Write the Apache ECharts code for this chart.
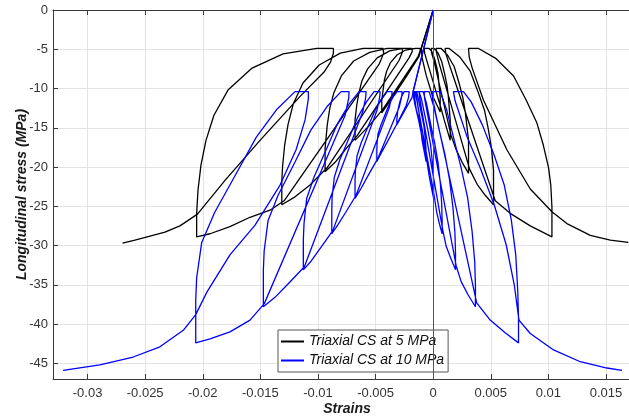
<!DOCTYPE html>
<html><head><meta charset="utf-8">
<script src="https://cdn.jsdelivr.net/npm/echarts@6/dist/echarts.min.js"></script>
<style>html,body{margin:0;padding:0;background:#fff}#c{width:629px;height:418px}</style>
</head><body><div id="c"></div>
<script>
const seriesNames = ['Triaxial CS at 5 MPa', 'Triaxial CS at 10 MPa'];
const xTicks = [-0.03, -0.025, -0.02, -0.015, -0.01, -0.005, 0, 0.005, 0.01, 0.015];
const yTicks = [0, -5, -10, -15, -20, -25, -30, -35, -40, -45];
const xRange = [-0.033, 0.017];
const yRange = [-47, 0];

// Triaxial CS at 5 MPa : lateral strain branch (negative side)
const blackLateral = [
[0,0],[-0.00104,-4.9],[-0.00122,-5.9],[-0.00243,-8.7],[-0.00356,-11.2],[-0.00446,-13.1],
[-0.00446,-11.5],[-0.00423,-8.9],[-0.00404,-7.8],[-0.00370,-6.7],[-0.00312,-5.7],[-0.00238,-5.1],[-0.00156,-4.9],[-0.00113,-4.9],
[-0.00113,-5.2],[-0.00130,-5.9],[-0.00434,-12.6],[-0.00547,-14.6],[-0.00678,-16.6],
[-0.00678,-14.0],[-0.00663,-12.1],[-0.00645,-10.6],[-0.00618,-9.0],[-0.00569,-7.5],[-0.00486,-6.1],[-0.00378,-5.2],[-0.00261,-4.9],[-0.00182,-4.9],
[-0.00182,-5.3],[-0.00209,-6.1],[-0.00660,-16.0],[-0.00764,-17.8],[-0.00851,-19.4],[-0.00938,-20.6],
[-0.00938,-17.6],[-0.00919,-14.6],[-0.00897,-12.5],[-0.00861,-10.5],[-0.00797,-8.4],[-0.00690,-6.5],[-0.00551,-5.4],[-0.00400,-4.9],[-0.00269,-4.9],
[-0.00265,-5.3],[-0.00295,-6.4],[-0.00921,-20.1],[-0.01069,-22.3],[-0.01199,-23.8],[-0.01314,-24.8],
[-0.01314,-21.8],[-0.01307,-19.9],[-0.01289,-17.2],[-0.01260,-14.6],[-0.01213,-11.9],[-0.01130,-9.3],[-0.00989,-7.0],[-0.00806,-5.5],[-0.00608,-4.9],[-0.00434,-4.9],
[-0.00430,-5.5],[-0.00469,-6.9],[-0.00895,-15.9],[-0.01294,-24.3],[-0.01416,-25.5],[-0.01590,-26.4],[-0.01764,-27.6],[-0.01937,-28.5],[-0.02053,-28.9],
[-0.02053,-25.9],[-0.02041,-22.9],[-0.02015,-19.7],[-0.01972,-16.6],[-0.01903,-13.4],[-0.01781,-10.2],[-0.01572,-7.4],[-0.01303,-5.6],[-0.01010,-4.9],[-0.00866,-4.9],
[-0.00866,-5.5],[-0.00890,-6.6],[-0.00947,-7.9],[-0.01155,-11.0],[-0.01503,-16.6],[-0.01807,-21.7],[-0.02046,-26.0],[-0.02198,-27.5],[-0.02328,-28.3],[-0.02458,-28.8],[-0.02589,-29.3],[-0.02696,-29.7]
];

// Triaxial CS at 5 MPa : axial strain branch (positive side)
const blackAxial = [
[0,0],[-0.00104,-4.9],[-0.00096,-6.1],[-0.00061,-8.3],[-0.00009,-10.8],[0.00061,-13.0],
[0.00061,-11.1],[0.00042,-8.1],[0.00028,-7.1],[0.00010,-6.1],[-0.00011,-5.3],[-0.00035,-4.9],[-0.00078,-4.9],
[-0.00074,-5.5],[-0.00052,-6.6],[0.00070,-12.6],[0.00096,-14.0],[0.00122,-15.3],[0.00148,-16.6],
[0.00148,-14.0],[0.00131,-10.9],[0.00119,-9.5],[0.00099,-8.1],[0.00075,-6.6],[0.00043,-5.5],[0.00009,-4.9],[-0.00017,-4.9],
[-0.00013,-5.5],[0.00009,-6.6],[0.00156,-16.0],[0.00200,-17.8],[0.00252,-19.4],[0.00307,-20.8],
[0.00307,-16.6],[0.00279,-13.0],[0.00258,-11.2],[0.00223,-9.2],[0.00182,-7.2],[0.00127,-5.8],[0.00070,-4.9],[0.00026,-4.9],
[0.00030,-5.5],[0.00052,-6.8],[0.00317,-20.3],[0.00382,-22.2],[0.00452,-23.6],[0.00524,-24.8],
[0.00524,-20.4],[0.00506,-17.6],[0.00478,-15.1],[0.00446,-12.8],[0.00389,-10.4],[0.00322,-7.8],[0.00232,-6.0],[0.00139,-4.9],[0.00104,-4.9],
[0.00109,-5.5],[0.00139,-6.9],[0.00539,-24.3],[0.00669,-25.9],[0.00843,-27.5],[0.01031,-28.9],
[0.01031,-25.1],[0.01021,-22.3],[0.01002,-20.1],[0.00956,-17.2],[0.00901,-14.4],[0.00808,-11.5],[0.00698,-8.4],[0.00547,-6.2],[0.00394,-4.9],[0.00307,-4.9],
[0.00313,-6.0],[0.00339,-7.4],[0.00437,-11.5],[0.00640,-17.8],[0.00843,-22.8],[0.01031,-25.7],[0.01161,-27.2],[0.01364,-28.7],[0.01538,-29.3],[0.01695,-29.6]
];

// Triaxial CS at 10 MPa : lateral strain branch
const blueLateral = [
[0,0],[-0.00174,-10.4],[-0.00182,-11.1],[-0.00243,-12.7],[-0.00315,-14.6],
[-0.00315,-13.9],[-0.00308,-12.9],[-0.00291,-11.8],[-0.00274,-11.0],[-0.00252,-10.4],[-0.00208,-10.4],
[-0.00213,-11.1],[-0.00235,-12.2],[-0.00307,-14.3],[-0.00391,-16.6],[-0.00443,-18.0],[-0.00489,-19.3],
[-0.00489,-17.8],[-0.00487,-17.0],[-0.00479,-15.8],[-0.00455,-14.7],[-0.00417,-13.3],[-0.00381,-12.0],[-0.00345,-11.0],[-0.00313,-10.4],[-0.00269,-10.4],
[-0.00274,-11.1],[-0.00295,-12.4],[-0.00480,-18.9],[-0.00565,-21.1],[-0.00625,-22.7],[-0.00678,-24.0],
[-0.00678,-21.7],[-0.00675,-20.5],[-0.00661,-18.6],[-0.00625,-16.9],[-0.00564,-14.8],[-0.00508,-12.9],[-0.00450,-11.4],[-0.00400,-10.4],[-0.00356,-10.4],
[-0.00361,-11.1],[-0.00382,-12.5],[-0.00669,-23.6],[-0.00756,-25.7],[-0.00825,-27.3],[-0.00880,-28.5],
[-0.00880,-25.4],[-0.00877,-23.8],[-0.00858,-21.3],[-0.00811,-19.1],[-0.00730,-16.3],[-0.00656,-13.7],[-0.00579,-11.7],[-0.00513,-10.4],[-0.00460,-10.4],
[-0.00465,-11.2],[-0.00486,-12.7],[-0.00871,-28.1],[-0.00982,-30.4],[-0.01060,-32.0],[-0.01127,-33.1],
[-0.01127,-29.3],[-0.01121,-27.2],[-0.01098,-24.0],[-0.01035,-21.3],[-0.00929,-17.8],[-0.00831,-14.5],[-0.00730,-12.0],[-0.00643,-10.4],[-0.00582,-10.4],
[-0.00586,-11.2],[-0.00612,-13.0],[-0.01118,-32.7],[-0.01260,-34.9],[-0.01373,-36.6],[-0.01474,-37.8],
[-0.01474,-33.1],[-0.01467,-30.7],[-0.01433,-26.8],[-0.01346,-23.6],[-0.01197,-19.3],[-0.01062,-15.3],[-0.00921,-12.3],[-0.00799,-10.4],[-0.00730,-10.4],
[-0.00734,-11.3],[-0.00764,-13.4],[-0.01466,-37.4],[-0.01590,-39.5],[-0.01764,-41.0],[-0.01937,-41.9],[-0.02061,-42.4],
[-0.02061,-36.9],[-0.02053,-34.1],[-0.02009,-29.6],[-0.01897,-25.8],[-0.01708,-20.8],[-0.01535,-16.2],[-0.01354,-12.6],[-0.01199,-10.4],[-0.01083,-10.4],
[-0.01083,-11.3],[-0.01112,-14.0],[-0.01190,-17.8],[-0.01329,-22.3],[-0.01546,-27.4],[-0.01764,-31.2],[-0.01963,-35.9],[-0.02061,-38.8],
[-0.02169,-40.8],[-0.02372,-42.9],[-0.02604,-44.2],[-0.02893,-45.2],[-0.03212,-45.9]
];

// Triaxial CS at 10 MPa : axial strain branch
const blueAxial = [
[0,0],[-0.00174,-10.4],[-0.00165,-11.5],[-0.00143,-13.0],[-0.00117,-14.6],
[-0.00117,-14.1],[-0.00122,-13.1],[-0.00135,-12.0],[-0.00148,-11.1],[-0.00161,-10.4],[-0.00174,-10.4],
[-0.00169,-11.2],[-0.00156,-12.2],[-0.00113,-14.4],[-0.00096,-16.6],[-0.00078,-18.0],[-0.00061,-19.3],
[-0.00061,-18.4],[-0.00063,-17.5],[-0.00070,-16.2],[-0.00080,-14.8],[-0.00096,-13.6],[-0.00115,-12.3],[-0.00132,-11.1],[-0.00143,-10.4],[-0.00165,-10.4],
[-0.00161,-11.2],[-0.00148,-12.5],[-0.00058,-18.9],[-0.00035,-21.1],[-0.00017,-22.5],[0.00004,-24.0],
[0.00004,-22.7],[0.00002,-21.1],[-0.00008,-19.2],[-0.00023,-17.1],[-0.00047,-15.2],[-0.00074,-13.3],[-0.00099,-11.5],[-0.00122,-10.4],[-0.00148,-10.4],
[-0.00143,-11.2],[-0.00130,-12.5],[0.00007,-23.5],[0.00030,-25.7],[0.00052,-27.1],[0.00078,-28.5],
[0.00078,-26.8],[0.00074,-24.7],[0.00063,-22.2],[0.00041,-19.3],[0.00011,-16.8],[-0.00025,-14.3],[-0.00058,-11.9],[-0.00087,-10.4],[-0.00122,-10.4],
[-0.00117,-11.2],[-0.00100,-12.7],[0.00083,-28.0],[0.00113,-30.1],[0.00152,-31.6],[0.00194,-33.1],
[0.00194,-30.9],[0.00189,-28.4],[0.00172,-25.2],[0.00142,-21.6],[0.00102,-18.4],[0.00051,-15.2],[0.00005,-12.3],[-0.00035,-10.4],[-0.00078,-10.4],
[-0.00074,-11.3],[-0.00052,-13.0],[0.00200,-32.6],[0.00243,-34.6],[0.00304,-36.3],[0.00367,-37.8],
[0.00367,-35.1],[0.00361,-32.1],[0.00338,-28.2],[0.00299,-23.9],[0.00243,-20.1],[0.00176,-16.2],[0.00115,-12.6],[0.00061,-10.4],[-0.00009,-10.4],
[-0.00004,-11.3],[0.00022,-13.2],[0.00378,-37.3],[0.00495,-39.5],[0.00625,-41.1],[0.00741,-42.4],
[0.00741,-39.2],[0.00734,-35.7],[0.00717,-31.2],[0.00678,-26.7],[0.00617,-22.3],[0.00530,-18.5],[0.00426,-14.6],[0.00330,-11.7],[0.00263,-10.4],[0.00176,-10.4],
[0.00191,-11.6],[0.00293,-16.1],[0.00408,-20.1],[0.00530,-24.8],[0.00634,-29.9],[0.00704,-35.0],[0.00745,-39.5],
[0.00843,-41.2],[0.01045,-43.3],[0.01277,-44.8],[0.01509,-45.6],[0.01639,-45.9]
];

const FONT = '"Liberation Sans", Arial, Helvetica, sans-serif';
const AXIS = '#3a3a3a';
const GRID = '#e3e3e3';
const BLACK = '#000000';
const BLUE = '#0000ff';

const chart = echarts.init(document.getElementById('c'), null, {renderer: 'canvas'});

function lineSeries(name, data, color, extra) {
  return Object.assign({
    name: name, type: 'line', data: data, symbol: 'none', showSymbol: false,
    lineStyle: {color: color, width: 1.3}, itemStyle: {color: color},
    emphasis: {disabled: true}, silent: true, clip: true
  }, extra || {});
}

const option = {
  animation: false,
  backgroundColor: '#ffffff',
  grid: {left: 53, right: 0, top: 10, bottom: 39, containLabel: false, outerBoundsMode: 'none'},
  xAxis: [{
    type: 'value', min: xRange[0], max: xRange[1], splitNumber: 10, position: 'bottom',
    axisLine: {show: true, onZero: false, lineStyle: {color: AXIS, width: 1}},
    axisTick: {show: true, inside: true, length: 5, customValues: xTicks, lineStyle: {color: AXIS}},
    axisLabel: {customValues: xTicks, color: '#333', fontSize: 13, fontFamily: FONT, margin: 8},
    splitLine: {show: true, lineStyle: {color: GRID, width: 1}},
    name: 'Strains', nameLocation: 'middle', nameGap: 23, nameMoveOverlap: false,
    nameTextStyle: {fontFamily: FONT, fontWeight: 'bold', fontStyle: 'italic', fontSize: 14, color: '#1a1a1a', padding: [0, 0, 0, 12]}
  }, {
    type: 'value', min: xRange[0], max: xRange[1], splitNumber: 10, position: 'top',
    axisLine: {show: true, onZero: false, lineStyle: {color: AXIS, width: 1}},
    axisTick: {show: true, inside: true, length: 5, customValues: xTicks, lineStyle: {color: AXIS}},
    axisLabel: {show: false}, splitLine: {show: false}
  }],
  yAxis: {
    type: 'value', min: yRange[0], max: yRange[1], splitNumber: 10,
    axisLine: {show: true, onZero: false, lineStyle: {color: AXIS, width: 1}},
    axisTick: {show: true, inside: true, length: 5, customValues: yTicks, lineStyle: {color: AXIS}},
    axisLabel: {customValues: yTicks, color: '#333', fontSize: 13, fontFamily: FONT, margin: 5},
    splitLine: {show: true, lineStyle: {color: GRID, width: 1}},
    name: 'Longitudinal stress (MPa)', nameLocation: 'middle', nameGap: 24, nameMoveOverlap: false,
    nameTextStyle: {fontFamily: FONT, fontWeight: 'bold', fontStyle: 'italic', fontSize: 14, color: '#1a1a1a'}
  },
  legend: {
    data: seriesNames, orient: 'vertical', left: 278, top: 330,
    icon: 'rect', itemWidth: 23, itemHeight: 2, itemGap: 4, padding: [4, 4, 4, 3],
    backgroundColor: '#ffffff', borderColor: '#555', borderWidth: 1, borderRadius: 0,
    textStyle: {fontFamily: FONT, fontStyle: 'italic', fontSize: 14, color: '#111', lineHeight: 15},
    selectedMode: false
  },
  series: [
    lineSeries(seriesNames[0], blackLateral, BLACK, {
      markLine: {
        silent: true, symbol: ['none', 'none'], animation: false,
        label: {show: false},
        lineStyle: {color: '#555', width: 1, type: 'solid'},
        data: [{xAxis: 0}]
      }
    }),
    lineSeries(seriesNames[0], blackAxial, BLACK),
    lineSeries(seriesNames[1], blueLateral, BLUE),
    lineSeries(seriesNames[1], blueAxial, BLUE)
  ]
};
chart.setOption(option);
</script></body></html>
